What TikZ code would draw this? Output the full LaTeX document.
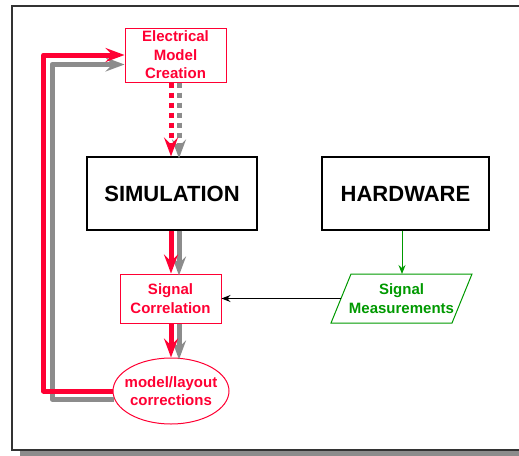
\documentclass[tikz,border=0pt]{standalone}
\usepackage{fontspec}
\setmainfont{Liberation Sans}
\usetikzlibrary{arrows.meta,calc,shapes.geometric}
\definecolor{myred}{HTML}{FF0033}
\definecolor{mygreen}{HTML}{009900}
\definecolor{mygray}{HTML}{8C8C8C}
\definecolor{framecol}{HTML}{333333}
\tikzset{
  smalltext/.style={font=\bfseries\fontsize{15}{18.5}\selectfont, align=center},
  bigtext/.style={font=\bfseries\fontsize{22}{26}\selectfont, align=center},
  redbox/.style={draw=myred, text=myred, line width=1pt, smalltext, inner sep=0pt},
  blackbox/.style={draw=black, line width=1.2pt, bigtext, inner sep=0pt},
  bigtip/.style={-{Stealth[length=19pt,width=14pt,inset=7pt]}},
  redline/.style={draw=myred, line width=5pt, line join=round, bigtip},
  grayline/.style={draw=mygray, line width=5pt, line join=round, bigtip},
  dotpat/.style={dash pattern=on 5pt off 5pt},
}
\begin{document}
\begin{tikzpicture}[x=1pt,y=-1pt]
\useasboundingbox (0,0) rectangle (519,455);
\clip (0,0) rectangle (519,455);
% frame
\fill[mygray] (20,450.5) rectangle (540,460);
\draw[framecol, line width=1.6pt] (12,6) rectangle (540,450);

% nodes
\node[redbox, minimum width=101, minimum height=54] (elec) at (175.5,55) {Electrical\\Model\\Creation};
\node[blackbox, minimum width=170, minimum height=73] (sim) at (172,193.5) {SIMULATION};
\node[blackbox, minimum width=167, minimum height=73] (hw) at (405.5,193.5) {HARDWARE};
\node[redbox, minimum width=101, minimum height=49] (corr) at (170.5,298.5) {Signal\\Correlation};
\node[ellipse, draw=myred, line width=1pt, inner sep=0pt, minimum width=116, minimum height=66,
      label={[smalltext, text=myred]center:model/layout\\corrections}] (ell) at (171,391) {};
% parallelogram
\draw[mygreen, line width=1pt] (351,274) -- (472,274) -- (452,323) -- (331,323) -- cycle;
\node[smalltext, text=mygreen] (meas) at (401.5,298.5) {Signal\\Measurements};
\coordinate (measTop) at (402,274);
\coordinate (measLeft) at (341,298.5);

% gray shadows
\draw[grayline] ($(ell.west)+(1,8)$) -- (52,399) |- ($(elec.west)+(0,9.5)$);
\draw[grayline, dotpat] ($(elec.south)+(3.5,0)$) -- ($(sim.north)+(7,2)$);
\draw[grayline] ($(sim.south)+(7,0)$) -- ($(corr.north)+(8.5,2)$);
\draw[grayline] ($(corr.south)+(8.5,0)$) -- ($(ell.north)+(8,2)$);

% red connectors
\draw[redline] (ell.west) -- (43.5,391) |- (elec.west);
\draw[redline, dotpat] ($(elec.south)+(-4.5,0)$) -- ($(sim.north)+(-1,0)$);
\draw[redline] ($(sim.south)+(-1,0)$) -- ($(corr.north)+(0.5,0)$);
\draw[redline] ($(corr.south)+(0.5,0)$) -- (ell.north);

% thin connectors
\draw[mygreen, line width=1pt, -{Stealth[length=9pt,width=7pt,inset=3pt]}] (hw.south -| measTop) -- (measTop);
\draw[black, line width=1pt, -{Stealth[length=9pt,width=7pt,inset=3pt]}] (measLeft) -- (corr.east);
\end{tikzpicture}
\end{document}
